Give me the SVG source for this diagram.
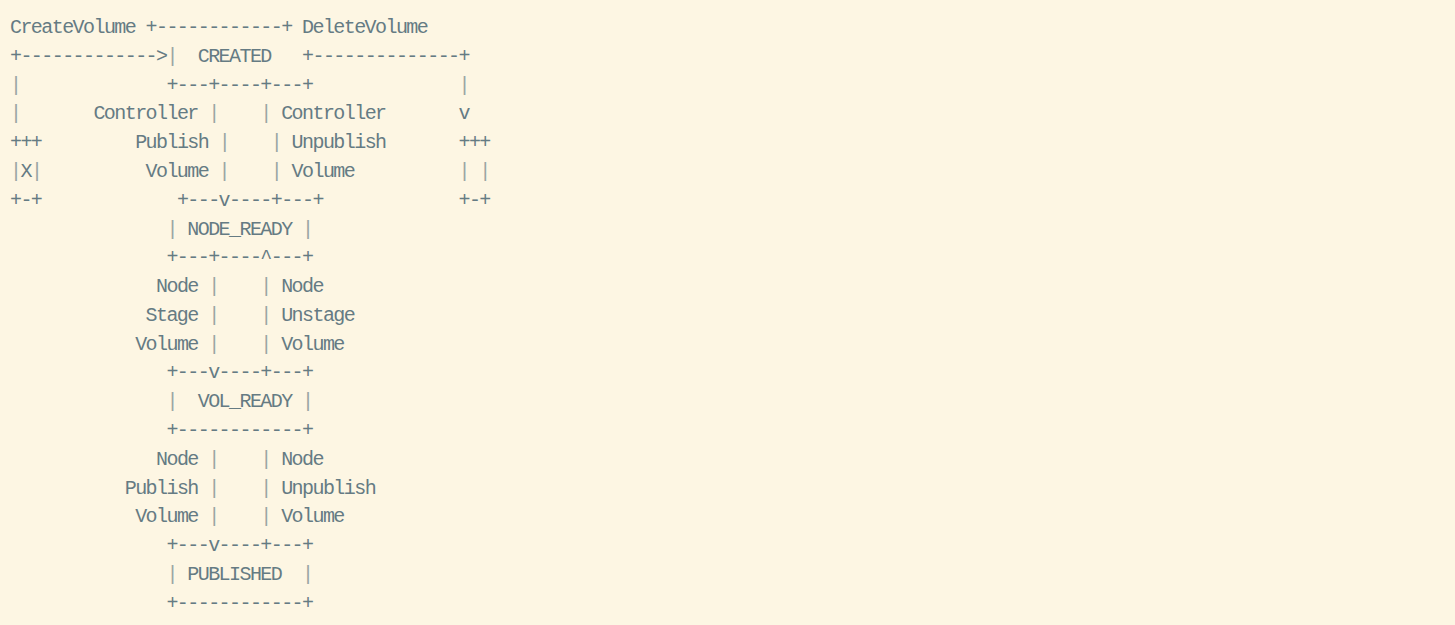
<svg xmlns="http://www.w3.org/2000/svg" width="1455" height="625" viewBox="0 0 1455 625">
<style>
text { font-family: "Liberation Mono", "DejaVu Sans Mono", monospace; font-size: 20px; letter-spacing: -1.57px; fill: #657b83; white-space: pre; }
.b { fill: #9aa5a3; }
</style>
<rect x="0" y="0" width="1455" height="625" fill="#fdf6e3"/>
<g id="connectors">
<text x="10" y="33">CreateVolume</text>
<text x="302.04" y="33">DeleteVolume</text>
<text x="10" y="61.79">+-------------&gt;</text>
<text x="312.47" y="61.79">--------------+</text>
<text x="10" y="90.58"><tspan class="b">|</tspan></text>
<text x="458.49" y="90.58"><tspan class="b">|</tspan></text>
<text x="10" y="119.37"><tspan class="b">|</tspan></text>
<text x="93.44" y="119.37">Controller <tspan class="b">|</tspan></text>
<text x="260.32" y="119.37"><tspan class="b">|</tspan> Controller</text>
<text x="458.49" y="119.37">v</text>
<text x="135.16" y="148.16">Publish <tspan class="b">|</tspan></text>
<text x="270.75" y="148.16"><tspan class="b">|</tspan> Unpublish</text>
<text x="145.59" y="176.95">Volume <tspan class="b">|</tspan></text>
<text x="270.75" y="176.95"><tspan class="b">|</tspan> Volume</text>
<text x="156.02" y="292.11">Node <tspan class="b">|</tspan></text>
<text x="260.32" y="292.11"><tspan class="b">|</tspan> Node</text>
<text x="145.59" y="320.9">Stage <tspan class="b">|</tspan></text>
<text x="260.32" y="320.9"><tspan class="b">|</tspan> Unstage</text>
<text x="135.16" y="349.69">Volume <tspan class="b">|</tspan></text>
<text x="260.32" y="349.69"><tspan class="b">|</tspan> Volume</text>
<text x="156.02" y="464.85">Node <tspan class="b">|</tspan></text>
<text x="260.32" y="464.85"><tspan class="b">|</tspan> Node</text>
<text x="124.73" y="493.64">Publish <tspan class="b">|</tspan></text>
<text x="260.32" y="493.64"><tspan class="b">|</tspan> Unpublish</text>
<text x="135.16" y="522.43">Volume <tspan class="b">|</tspan></text>
<text x="260.32" y="522.43"><tspan class="b">|</tspan> Volume</text>
</g>
<g id="node-created">
<text x="145.59" y="33">+------------+</text>
<text x="166.45" y="61.79"><tspan class="b">|</tspan>  CREATED   +</text>
<text x="166.45" y="90.58">+---+----+---+</text>
</g>
<g id="node-nonexistent">
<text x="10" y="148.16">+++</text>
<text x="10" y="176.95"><tspan class="b">|</tspan>X<tspan class="b">|</tspan></text>
<text x="10" y="205.74">+-+</text>
</g>
<g id="node-deleted">
<text x="458.49" y="148.16">+++</text>
<text x="458.49" y="176.95"><tspan class="b">|</tspan> <tspan class="b">|</tspan></text>
<text x="458.49" y="205.74">+-+</text>
</g>
<g id="node-node-ready">
<text x="176.88" y="205.74">+---v----+---+</text>
<text x="166.45" y="234.53"><tspan class="b">|</tspan> NODE_READY <tspan class="b">|</tspan></text>
<text x="166.45" y="263.32">+---+----^---+</text>
</g>
<g id="node-vol-ready">
<text x="166.45" y="378.48">+---v----+---+</text>
<text x="166.45" y="407.27"><tspan class="b">|</tspan>  VOL_READY <tspan class="b">|</tspan></text>
<text x="166.45" y="436.06">+------------+</text>
</g>
<g id="node-published">
<text x="166.45" y="551.22">+---v----+---+</text>
<text x="166.45" y="580.01"><tspan class="b">|</tspan> PUBLISHED  <tspan class="b">|</tspan></text>
<text x="166.45" y="608.8">+------------+</text>
</g>
</svg>
